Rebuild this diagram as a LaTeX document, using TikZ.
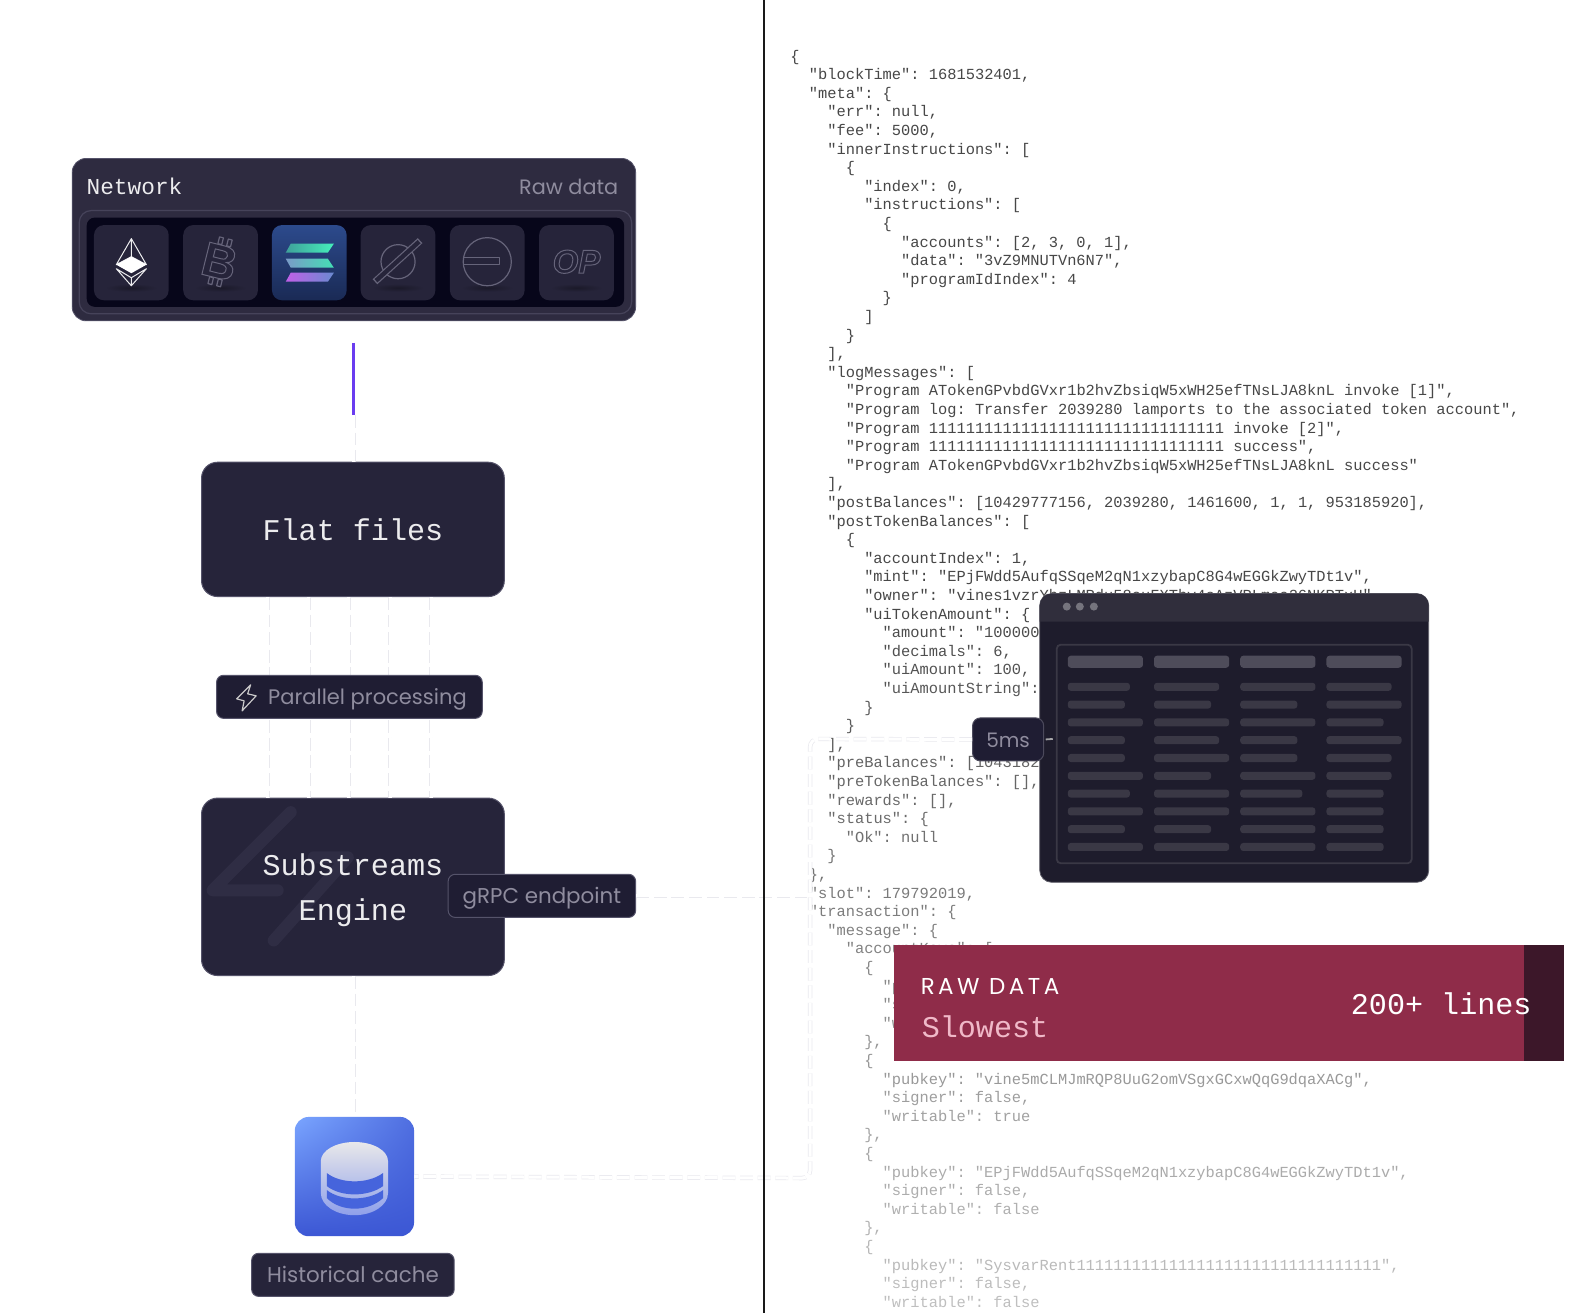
\documentclass[tikz,border=0pt]{standalone}
\usepackage{fontspec}
\setmainfont{Poppins}
\setmonofont{Liberation Mono}
\newfontfamily\logofont{Liberation Sans}
\newfontfamily\capsfont[LetterSpace=15]{Poppins}
\usetikzlibrary{positioning,calc,shadings}
\definecolor{panelbg}{HTML}{2E2B40}
\definecolor{panelrim}{HTML}{46435A}
\definecolor{wellbg}{HTML}{07061A}
\definecolor{tilebg}{HTML}{26243A}
\definecolor{cardbg}{HTML}{26243A}
\definecolor{cardrim}{HTML}{55536A}
\definecolor{pillbg}{HTML}{1F1D33}
\definecolor{mutedtext}{HTML}{8F8C9E}
\definecolor{lighttext}{HTML}{ECECEE}
\definecolor{iconline}{HTML}{66647A}
\definecolor{wirerim}{HTML}{E9E9EE}
\definecolor{viaviolet}{HTML}{6A3CF0}
\definecolor{winbg}{HTML}{1E1C2C}
\definecolor{winbar}{HTML}{302E3C}
\definecolor{winhead}{HTML}{4E4C5A}
\definecolor{winrow}{HTML}{3A3845}
\definecolor{rawred}{HTML}{8F2C49}
\definecolor{rawdark}{HTML}{3C1729}
\definecolor{rawpink}{HTML}{F0B9C8}
\definecolor{solup}{HTML}{2C4A8C}
\definecolor{sollow}{HTML}{1A2A55}
\definecolor{solteal}{HTML}{45EFBB}
\definecolor{solsea}{HTML}{3FA09A}
\definecolor{solhaze}{HTML}{7A9AC8}
\definecolor{solviolet}{HTML}{C060E8}
\definecolor{solblue}{HTML}{6A8AD0}
\definecolor{dbglow}{HTML}{7AA5FF}
\definecolor{dbmid}{HTML}{4F6EE0}
\definecolor{dblow}{HTML}{3C57D4}
\definecolor{dbband}{HTML}{4664DC}
\definecolor{dbtop}{HTML}{E8E8EA}
\definecolor{dbfoot}{HTML}{8FA0EA}
\def\u{0.5013pt}
\newcommand{\outlined}[1]{\special{pdf:code 1 Tr 0.5 w}#1\special{pdf:code 0 Tr}}
\tikzset{
    wire/.style={draw=wirerim, double=white, line width=0.35pt, double distance=1.5pt, dash pattern=on 6.4pt off 2.4pt},
    card/.style={draw=cardrim, line width=0.5pt, fill=cardbg, rounded corners=8pt, minimum width=302*\u, inner sep=0},
    monotext/.style={font=\fontsize{15.05pt}{22.5pt}\selectfont\ttfamily, text=lighttext, align=center, inner sep=0},
    pill/.style={draw=cardrim, line width=0.5pt, fill=pillbg, rounded corners=3.5pt, minimum height=43*\u, inner sep=0, text=mutedtext, text height=8.5pt, text depth=0.5pt, font=\fontsize{10.7pt}{13pt}\selectfont},
    tile/.style={fill=tilebg, rounded corners=5pt, minimum width=74.5*\u, minimum height=75*\u, inner sep=0},
    codeline/.style={anchor=base west, inner sep=0, font=\fontsize{7.69pt}{9pt}\selectfont\ttfamily},
    icon/.style={draw=iconline, line width=0.6pt, line join=round},
}
\begin{document}
\begin{tikzpicture}[x=0.5013pt,y=-0.5013pt]
    \useasboundingbox (0,0) rectangle (1567.9,1309.6);
    \fill[white] (0,0) rectangle (1567.9,1309.6);

    % Raw json
    \frenchspacing
    \foreach \n/\ind/\txt in {
        0/0/{\{},
        1/2/{"blockTime": 1681532401,},
        2/2/{"meta": \{},
        3/4/{"err": null,},
        4/4/{"fee": 5000,},
        5/4/{"innerInstructions": [},
        6/6/{\{},
        7/8/{"index": 0,},
        8/8/{"instructions": [},
        9/10/{\{},
        10/12/{"accounts": [2, 3, 0, 1],},
        11/12/{"data": "3vZ9MNUTVn6N7",},
        12/12/{"programIdIndex": 4},
        13/10/{\}},
        14/8/{]},
        15/6/{\}},
        16/4/{],},
        17/4/{"logMessages": [},
        18/6/{"Program ATokenGPvbdGVxr1b2hvZbsiqW5xWH25efTNsLJA8knL invoke [1]",},
        19/6/{"Program log: Transfer 2039280 lamports to the associated token account",},
        20/6/{"Program 11111111111111111111111111111111 invoke [2]",},
        21/6/{"Program 11111111111111111111111111111111 success",},
        22/6/{"Program ATokenGPvbdGVxr1b2hvZbsiqW5xWH25efTNsLJA8knL success"},
        23/4/{],},
        24/4/{"postBalances": [10429777156, 2039280, 1461600, 1, 1, 953185920],},
        25/4/{"postTokenBalances": [},
        26/6/{\{},
        27/8/{"accountIndex": 1,},
        28/8/{"mint": "EPjFWdd5AufqSSqeM2qN1xzybapC8G4wEGGkZwyTDt1v",},
        29/8/{"owner": "vines1vzrYbzLMRdu58ouFXTby4sAzVPLmaa26NKPTxU"},
        30/8/{"uiTokenAmount": \{},
        31/10/{"amount": "100000000",},
        32/10/{"decimals": 6,},
        33/10/{"uiAmount": 100,},
        34/10/{"uiAmountString": "100"},
        35/8/{\}},
        36/6/{\}},
        37/4/{],},
        38/4/{"preBalances": [10431820000],},
        39/4/{"preTokenBalances": [],},
        40/4/{"rewards": [],},
        41/4/{"status": \{},
        42/6/{"Ok": null},
        43/4/{\}},
        44/2/{\},},
        45/2/{"slot": 179792019,},
        46/2/{"transaction": \{},
        47/4/{"message": \{},
        48/6/{"accountKeys": [},
        49/8/{\{},
        50/10/{"p},
        51/10/{"s},
        52/10/{"w},
        53/8/{\},},
        54/8/{\{},
        55/10/{"pubkey": "vine5mCLMJmRQP8UuG2omVSgxGCxwQqG9dqaXACg",},
        56/10/{"signer": false,},
        57/10/{"writable": true},
        58/8/{\},},
        59/8/{\{},
        60/10/{"pubkey": "EPjFWdd5AufqSSqeM2qN1xzybapC8G4wEGGkZwyTDt1v",},
        61/10/{"signer": false,},
        62/10/{"writable": false},
        63/8/{\},},
        64/8/{\{},
        65/10/{"pubkey": "SysvarRent111111111111111111111111111111111",},
        66/10/{"signer": false,},
        67/10/{"writable": false}} {
        \pgfmathtruncatemacro\ink{\n<30 ? 72 : 72-(\n-30)*1.27}
        \node[codeline, text=black!\ink] (line\n) at ({788+\ind*9.2},{61+\n*18.55}) {\txt};
    }

    % Network panel
    \node[fill=panelbg, draw=cardrim, line width=0.4pt, rounded corners=7pt, minimum width=562*\u, minimum height=162*\u, inner sep=0] (network) at (353,239) {};
    \node[fill=panelbg, draw=panelrim, line width=0.6pt, rounded corners=6pt, minimum width=551*\u, minimum height=103*\u, inner sep=0] (rim) at (354.5,261.5) {};
    \node[fill=wellbg, rounded corners=4pt, minimum width=536*\u, minimum height=89*\u, inner sep=0] (well) at (354.5,261.5) {};
    \node[anchor=base west, inner sep=0, text=lighttext, font=\fontsize{11.4pt}{13pt}\selectfont\ttfamily] (nettitle) at (86,194) {Network};
    \node[anchor=base east, inner sep=0, text=mutedtext, font=\fontsize{10.4pt}{13pt}\selectfont] (netraw) at (617,194) {Raw data};

    \foreach \x/\name in {131/eth,220/btc,397/slash,486/minus,575/op} {
        \node[tile] (tile\name) at (\x,262) {};
        \shade[inner color=black!30!tilebg, outer color=tilebg] (\x,287) ellipse (26 and 4);
    }
    \node[tile, fill=none, shade, top color=solup, bottom color=sollow] (tilesol) at (308.5,262) {};

    % Chain icons
    \draw[lighttext, line width=0.5pt, line join=round] (131,238) -- (116,264) -- (131,256) -- (146,264) -- cycle
        (131,238) -- (131,256) (116,268) -- (131,285) -- (146,268) -- (131,277) -- cycle (131,277) -- (131,285);
    \fill[white] (131,256) -- (146,264) -- (131,272.5) -- (116,264) -- cycle;

    \node[inner sep=0, rotate=-14, text=iconline, font=\fontsize{24pt}{26pt}\selectfont\logofont\bfseries] (btcglyph) at (219,261) {\outlined{B}};
    \draw[icon, rotate around={-14:(219,261)}] (213,237) -- (213,244) -- (217,244) -- (217,237) -- cycle (222,237) -- (222,244) -- (226,244) -- (226,237) -- cycle
        (213,278) rectangle (217,285) (222,278) rectangle (226,285);

    \shade[left color=solsea, right color=solteal] (290,243) -- (333,243) -- (327,252) -- (285,252) -- cycle;
    \shade[left color=solhaze, right color=solteal!80!solsea] (285,258) -- (327,258) -- (333,267) -- (290,267) -- cycle;
    \shade[left color=solviolet, right color=solblue] (290,272) -- (333,272) -- (327,281) -- (285,281) -- cycle;

    \draw[icon] (397,261) circle (17);
    \draw[iconline, line width=3.4pt, line cap=butt] (374,281) -- (419,240);
    \draw[tilebg, line width=2.2pt, line cap=butt] (375,280) -- (418,241);

    \draw[icon] (486,261) circle (24);
    \draw[icon] (462,257) -- (498,257) -- (498,263.5) -- (462,263.5);

    \node[inner sep=0, text=iconline, font=\fontsize{16.5pt}{18pt}\selectfont\logofont\bfseries\itshape] (opglyph) at (575,261) {\outlined{OP}};

    % Wires
    \coordinate (viaTop) at (353,342);
    \coordinate (viaEnd) at (353,414);
    \coordinate (kneeTop) at (808,737);
    \coordinate (kneeBot) at (808,1175);
    \node[card, minimum height=134*\u] (flat) at (352,528) {};
    \node[monotext] (flattitle) at (flat) {Flat files};
    \node[card, minimum height=177*\u] (subs) at (352,884.5) {};
    \node[inner sep=0, rounded corners=7pt, shade, upper left=dbglow, upper right=dbmid, lower left=dblow, lower right=dblow, minimum width=119*\u, minimum height=119*\u] (cache) at (353.5,1173.5) {};

    \draw[wire] (viaEnd) -- (viaEnd |- flat.north);
    \draw[wire] (viaEnd |- subs.south) -- (viaEnd |- cache.north);
    \foreach \i/\x in {1/267,2/308,3/348,4/389,5/430} {
        \coordinate (lane\i) at (\x,0);
        \draw[wire] (flat.south -| lane\i) -- (subs.north -| lane\i);
    }
    \draw[viaviolet, line width=1.5pt] (viaTop) -- (viaEnd);

    % Substreams card
    \draw[cardrim!20!cardbg, line width=6pt, line cap=round, line join=round] (290,810) -- (212,888) -- (277,888) (313,855) -- (347,855) -- (273,938);
    \node[monotext] (substitle) at (352,888) {Substreams\\Engine};

    % Pills
    \node[pill, minimum width=265*\u] (parallel) at (348.5,695) {};
    \node[inner sep=0, text=mutedtext, text height=8.5pt, text depth=0.5pt, font=\fontsize{10.5pt}{13pt}\selectfont] (paralleltext) at (366.5,695) {Parallel processing};
    \draw[lighttext!85!black, line width=0.6pt, line join=round] (250,683) -- (236,697) -- (243.5,699) -- (241.5,709) -- (255.5,694) -- (247,692) -- cycle;
    \node[pill, minimum width=187*\u] (grpc) at (540.5,893.5) {gRPC endpoint};
    \node[pill, minimum width=202*\u, fill=cardbg] (histlabel) at (352,1271.5) {Historical cache};

    % Database icon
    \shade[top color=dbtop, bottom color=dbfoot] (320,1158) arc[start angle=180, end angle=360, x radius=33.5, y radius=19] -- (387,1190) arc[start angle=0, end angle=180, x radius=33.5, y radius=22] -- cycle;
    \fill[dbband] (326,1170) .. controls (340,1181) and (367,1181) .. (382,1170) -- (382,1183) .. controls (367,1194) and (340,1194) .. (326,1183) -- cycle;
    \fill[dbband] (326,1187) .. controls (340,1198) and (367,1198) .. (382,1187) -- (382,1195) .. controls (367,1209) and (340,1209) .. (326,1195) -- cycle;

    % Table window
    \node[fill=winbg, draw=winbg!70!white, line width=0.4pt, rounded corners=6pt, minimum width=388*\u, minimum height=288*\u, inner sep=0] (window) at (1231,736) {};
    \fill[winbar, rounded corners=6pt] (1037,620) [sharp corners] -- (1037,620) [rounded corners=6pt] -- (1037,592) -- (1425,592) [sharp corners] -- (1425,620) -- cycle;
    \foreach \x in {1064,1077,1091} \fill[winrow!70!white] (\x,605) circle (4);
    \draw[winrow, line width=0.9pt, rounded corners=2pt] (1054,643) rectangle (1408,861);
    \foreach \x in {1065,1151,1237,1323} \fill[winhead, rounded corners=1.5pt] (\x,654) rectangle ++(75,12);
    \foreach \x/\rows in {
        1065/{62,57,75,57,57,75,62,75,57,75},
        1151/{65,57,75,65,75,57,75,75,57,75},
        1237/{75,57,75,57,57,75,62,75,75,75},
        1323/{65,75,57,75,65,65,57,57,57,57}} {
        \foreach \w [count=\r from 0] in \rows
            \fill[winrow, rounded corners=1.5pt] (\x,{681+\r*17.75}) rectangle ++(\w,8);
    }

    % Latency tag
    \node[pill, draw=pillbg!80!white, minimum width=71*\u, rounded corners=4pt, font=\fontsize{10pt}{13pt}\selectfont] (fivems) at (1005.5,737.5) {5ms};
    \coordinate (tabEdge) at (1050,737);
    \draw[wire, rounded corners=4pt] (fivems.west) -- (kneeTop) -- (kneeBot) -- (cache.east);
    \draw[wire] (grpc.east) -- (grpc.east -| kneeTop);
    \draw[lighttext!70!black, line width=0.9pt] (fivems.east -| tabEdge) ++(-7,0) -- (tabEdge);

    % Divider
    \coordinate (divTop) at (762,0);
    \coordinate (divEnd) at (762,1309.6);
    \draw[black!90, line width=1pt] (divTop) -- (divEnd);

    % Raw data banner
    \node[fill=rawred, minimum width=628*\u, minimum height=115*\u, inner sep=0] (rawbar) at (1206,1000.5) {};
    \node[fill=rawdark, minimum width=40*\u, minimum height=115*\u, inner sep=0] (rawend) at (1540,1000.5) {};
    \node[anchor=base west, inner sep=0, text=white, font=\fontsize{11.5pt}{13pt}\selectfont\capsfont] (rawtitle) at (918,992) {RAW DATA};
    \node[anchor=base west, inner sep=0, text=rawpink, font=\fontsize{15.05pt}{17pt}\selectfont\ttfamily] (rawspeed) at (919,1035) {Slowest};
    \node[anchor=base west, inner sep=0, text=white, font=\fontsize{15.05pt}{17pt}\selectfont\ttfamily] (rawlines) at (1347,1012) {200+ lines};
\end{tikzpicture}
\end{document}
